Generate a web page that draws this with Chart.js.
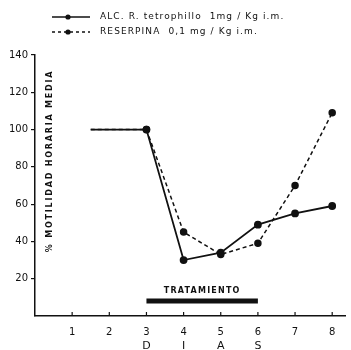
<!DOCTYPE html>
<html>
<head>
<meta charset="utf-8">
<script src="https://cdn.jsdelivr.net/npm/chart.js@4"></script>
<style>
  html, body { margin: 0; padding: 0; background: #fff; }
  #wrap { width: 351px; height: 350px; }
</style>
</head>
<body>
<div id="wrap"><canvas id="chart"></canvas></div>
<script>
// data
const diasAlc = [1.5, 3, 4, 5, 6, 7, 8];
const valoresAlc = [100, 100, 30, 34, 49, 55, 59];
const diasReserpina = [1.5, 3, 4, 5, 6, 7, 8];
const valoresReserpina = [100, 100, 45, 33, 39, 70, 109];
const diasTicks = [1, 2, 3, 4, 5, 6, 7, 8];
const yTicks = [20, 40, 60, 80, 100, 120, 140];
const tratamiento = [3, 6];
const tratamientoNivel = 8;
const letrasDias = ["D", "I", "A", "S"];
const posLetras = [3, 4, 5, 6];
const leyenda = ["ALC. R. tetrophillo  1mg / Kg i.m.", "RESERPINA  0,1 mg / Kg i.m."];
const tituloY = "% MOTILIDAD HORARIA MEDIA";

const toXY = (xs, ys) => xs.map((x, i) => ({ x: x, y: ys[i] }));
const FONT = "'DejaVu Sans', sans-serif";

// hand drawn bits: legend, titles, treatment label, inward x ticks
const extras = {
  id: "extras",
  afterDraw(chart) {
    const ctx = chart.ctx;
    const xs = chart.scales.x, ys = chart.scales.y;
    ctx.save();
    ctx.fillStyle = "#111";
    ctx.strokeStyle = "#111";

    // x tick marks pointing up
    ctx.lineWidth = 1.2;
    diasTicks.forEach(d => {
      const px = xs.getPixelForValue(d);
      ctx.beginPath();
      ctx.moveTo(px, ys.bottom);
      ctx.lineTo(px, ys.bottom - 4);
      ctx.stroke();
    });

    // legend
    const rows = [17, 32];
    rows.forEach((y, i) => {
      ctx.lineWidth = 1.5;
      ctx.setLineDash(i === 0 ? [] : [3, 3]);
      ctx.beginPath();
      ctx.moveTo(52, y);
      ctx.lineTo(90, y);
      ctx.stroke();
      ctx.setLineDash([]);
      ctx.beginPath();
      ctx.arc(68, y, 2.6, 0, Math.PI * 2);
      ctx.fill();
      ctx.font = "9px " + FONT;
      ctx.letterSpacing = "1.1px";
      ctx.textBaseline = "middle";
      ctx.textAlign = "left";
      ctx.fillText(leyenda[i], 100, y);
    });

    // y title inside the plot
    ctx.save();
    ctx.translate(50, 161);
    ctx.rotate(-Math.PI / 2);
    ctx.font = "bold 8px " + FONT;
    ctx.letterSpacing = "1.8px";
    ctx.textAlign = "center";
    ctx.textBaseline = "middle";
    ctx.fillText(tituloY, 0, 0);
    ctx.restore();

    // treatment label
    ctx.font = "bold 8px " + FONT;
    ctx.letterSpacing = "1.2px";
    ctx.textAlign = "center";
    ctx.textBaseline = "middle";
    const mid = (xs.getPixelForValue(tratamiento[0]) + xs.getPixelForValue(tratamiento[1])) / 2;
    ctx.fillText("TRATAMIENTO", mid, ys.getPixelForValue(tratamientoNivel) - 10);

    // D I A S
    ctx.font = "11px " + FONT;
    ctx.letterSpacing = "0px";
    letrasDias.forEach((l, i) => {
      ctx.fillText(l, xs.getPixelForValue(posLetras[i]), 346);
    });
    ctx.restore();
  }
};

new Chart(document.getElementById("chart"), {
  type: "line",
  data: {
    datasets: [
      {
        label: leyenda[0],
        data: toXY(diasAlc, valoresAlc),
        borderColor: "#111",
        backgroundColor: "#111",
        borderWidth: 1.8,
        pointRadius: diasAlc.map((d, i) => i === 0 ? 0 : 3),
        tension: 0
      },
      {
        label: leyenda[1],
        data: toXY(diasReserpina, valoresReserpina),
        borderColor: "#111",
        backgroundColor: "#111",
        borderWidth: 1.5,
        borderDash: [4, 3],
        pointRadius: diasReserpina.map((d, i) => i === 0 ? 0 : 3),
        tension: 0
      },
      {
        label: "tratamiento",
        data: toXY(tratamiento, [tratamientoNivel, tratamientoNivel]),
        borderColor: "#111",
        borderWidth: 5,
        pointRadius: 0,
        borderCapStyle: "butt"
      }
    ]
  },
  options: {
    responsive: true,
    maintainAspectRatio: false,
    animation: false,
    layout: { padding: { top: 55, right: 3, left: 0, bottom: 0 } },
    plugins: { legend: { display: false }, tooltip: { enabled: false } },
    scales: {
      x: {
        type: "linear",
        min: 0,
        max: 8.35,
        afterBuildTicks: s => { s.ticks = diasTicks.map(v => ({ value: v })); },
        afterFit: s => { s.height = 34; },
        grid: { display: false },
        border: { color: "#111", width: 1.5 },
        ticks: { color: "#111", padding: 2, font: { family: FONT, size: 10 } }
      },
      y: {
        min: 0,
        max: 140,
        afterBuildTicks: s => { s.ticks = yTicks.map(v => ({ value: v })); },
        afterFit: s => { s.width = 35; },
        grid: { display: true, drawOnChartArea: false, tickLength: 4, color: "#111", lineWidth: 1.2 },
        border: { color: "#111", width: 1.5 },
        ticks: { color: "#111", padding: 3, font: { family: FONT, size: 10 } }
      }
    }
  },
  plugins: [extras]
});
</script>
</body>
</html>
